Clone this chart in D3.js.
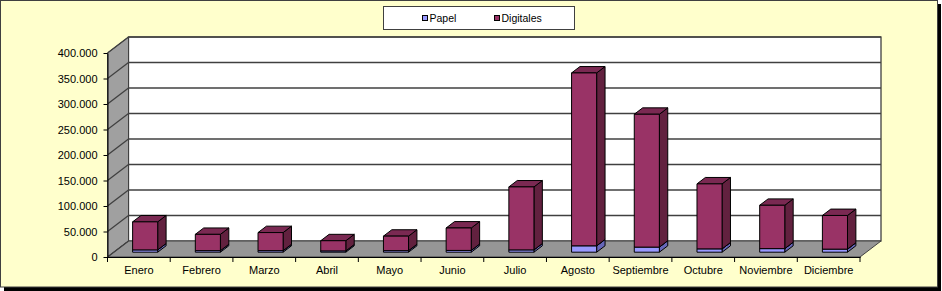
<!DOCTYPE html>
<html>
<head>
<meta charset="utf-8">
<script src="https://cdn.jsdelivr.net/npm/d3@7"></script>
<style>
  body { margin: 0; background: #fff; }
  text { font-family: "Liberation Sans", Arial, sans-serif; }
</style>
</head>
<body>
<script>
// data
const months = ["Enero", "Febrero", "Marzo", "Abril", "Mayo", "Junio", "Julio",
  "Agosto", "Septiembre", "Octubre", "Noviembre", "Diciembre"];
const papel = [4500, 3000, 3000, 2500, 3000, 3500, 4500, 12500, 10000, 6500, 7000, 6000];
const digitales = [55000, 32000, 35500, 20000, 28500, 44000, 123500, 339000, 260500, 127500, 85000, 66000];
const seriesNames = ["Papel", "Digitales"];
const yTicks = [0, 50000, 100000, 150000, 200000, 250000, 300000, 350000, 400000];

const W = 942, H = 291;
// oblique depth of the 3d box
const DX = 21, DY = -16;
const colors = {
  Papel: { front: "#9999ff", top: "#7f7fd6", side: "#6666b8" },
  Digitales: { front: "#993366", top: "#7a2952", side: "#62213f" }
};

const fmt = d3.formatLocale({ decimal: ",", thousands: ".", grouping: [3], currency: ["", ""] }).format(",d");

const svg = d3.select("body").append("svg")
  .attr("width", W).attr("height", H);

// chart area with shadow
svg.append("rect").attr("x", 4).attr("y", 4).attr("width", 937).attr("height", 287).attr("fill", "#000");
svg.append("rect").attr("x", 0.5).attr("y", 0.5).attr("width", 937).attr("height", 286.5)
  .attr("fill", "#ffffcc").attr("stroke", "#404040");

const x = d3.scaleBand().domain(months).range([107.5, 860]).paddingInner(0.6).paddingOuter(0.3);
const y = d3.scaleLinear().domain([0, 400000]).range([257, 53]);

const x0 = x.range()[0], x1 = x.range()[1];
const pts = p => p.map(d => d.join(",")).join(" ");

// back wall
svg.append("rect")
  .attr("x", x0 + DX).attr("y", y(400000) + DY)
  .attr("width", x1 - x0).attr("height", y(0) - y(400000))
  .attr("fill", "#fff").attr("stroke", "#404040").attr("stroke-width", 1.3);

// left wall
svg.append("polygon")
  .attr("points", pts([[x0, y(0)], [x0, y(400000)], [x0 + DX, y(400000) + DY], [x0 + DX, y(0) + DY]]))
  .attr("fill", "#a0a0a0").attr("stroke", "#404040");

// floor
svg.append("polygon")
  .attr("points", pts([[x0, y(0)], [x1, y(0)], [x1 + DX, y(0) + DY], [x0 + DX, y(0) + DY]]))
  .attr("fill", "#969696").attr("stroke", "#404040");

// gridlines on back wall and left wall
const grid = svg.append("g").attr("stroke", "#404040").attr("stroke-width", 1.3);
grid.selectAll(".gb").data(yTicks.slice(1)).join("line")
  .attr("x1", x0 + DX).attr("x2", x1 + DX)
  .attr("y1", d => y(d) + DY).attr("y2", d => y(d) + DY);
grid.selectAll(".gl").data(yTicks).join("line")
  .attr("x1", x0).attr("x2", x0 + DX)
  .attr("y1", d => y(d)).attr("y2", d => y(d) + DY);

// bars
const table = months.map((m, i) => ({ month: m, Papel: papel[i], Digitales: digitales[i] }));
const stacked = d3.stack().keys(seriesNames)(table);
const bw = x.bandwidth();
const fx = DX * 0.3, fy = DY * 0.3, bx = DX * 0.4, by = DY * 0.4;

const barG = svg.append("g").attr("stroke", "#000").attr("stroke-width", 1).attr("stroke-linejoin", "round");
months.forEach((m, i) => {
  stacked.forEach(s => {
    const seg = s[i];
    const c = colors[s.key];
    const xl = x(m) + fx, xr = xl + bw;
    const yt = y(seg[1]) + fy, yb = y(seg[0]) + fy;
    barG.append("polygon").attr("fill", c.side)
      .attr("points", pts([[xr, yt], [xr + bx, yt + by], [xr + bx, yb + by], [xr, yb]]));
    barG.append("polygon").attr("fill", c.top)
      .attr("points", pts([[xl, yt], [xr, yt], [xr + bx, yt + by], [xl + bx, yt + by]]));
    barG.append("rect").attr("fill", c.front)
      .attr("x", xl).attr("y", yt).attr("width", bw).attr("height", yb - yt);
  });
});

// y axis
const yAxis = svg.append("g").attr("transform", "translate(" + x0 + ",0)")
  .call(d3.axisLeft(y).tickValues(yTicks).tickFormat(fmt).tickSize(4).tickSizeOuter(0).tickPadding(6));
yAxis.selectAll("text").attr("font-size", 11).attr("fill", "#000")
  .style("font-family", "'Liberation Sans', Arial, sans-serif");
yAxis.selectAll("line, path").attr("stroke", "#000");

// x axis
const xAxis = svg.append("g").attr("transform", "translate(0," + y(0) + ")")
  .call(d3.axisBottom(x).tickSize(0).tickPadding(9).tickSizeOuter(0));
xAxis.selectAll("text").attr("font-size", 11).attr("fill", "#000")
  .style("font-family", "'Liberation Sans', Arial, sans-serif");
xAxis.select("path").attr("stroke", "#000");
xAxis.selectAll(".bound").data(d3.range(months.length + 1)).join("line")
  .attr("class", "bound")
  .attr("x1", i => x0 + i * x.step()).attr("x2", i => x0 + i * x.step())
  .attr("y1", 0).attr("y2", 5).attr("stroke", "#000");

// legend
const legend = svg.append("g");
legend.append("rect").attr("x", 383.5).attr("y", 6.5).attr("width", 191).attr("height", 23)
  .attr("fill", "#fff").attr("stroke", "#404040");
const legendX = [422.5, 494.5];
seriesNames.forEach((name, i) => {
  legend.append("rect").attr("x", legendX[i]).attr("y", 15.5).attr("width", 5).attr("height", 5)
    .attr("fill", colors[name].front).attr("stroke", "#000");
  legend.append("text").attr("x", legendX[i] + 7).attr("y", 21.5)
    .attr("font-size", 10.5).attr("fill", "#000").text(name);
});
</script>
</body>
</html>
